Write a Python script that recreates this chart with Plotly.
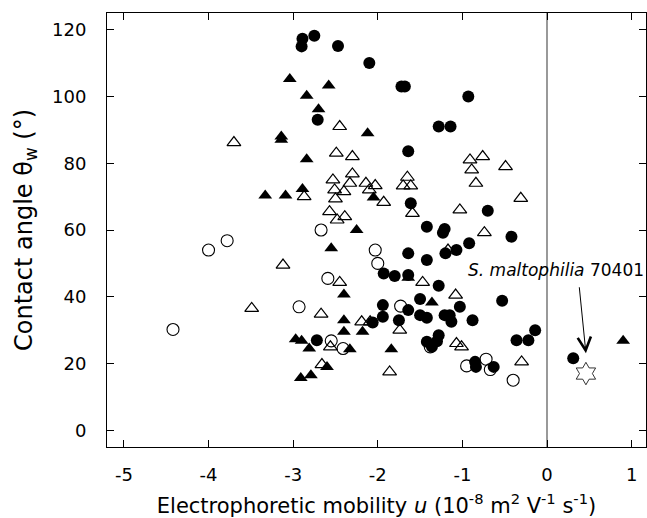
import plotly.graph_objects as go

# Filled circles
fc_x = [-2.89, -2.90, -2.75, -2.47, -2.10, -1.72, -1.68, -0.93, -1.28, -1.14,
        -1.64, -2.71, -1.61, -0.70, -1.42, -1.23, -1.21, -0.42, -0.92, -1.07,
        -1.20, -1.64, -1.42, -1.93, -1.80, -1.64, -1.28, -0.53, -1.50, -1.94,
        -1.94, -2.06, -1.75, -1.64, -1.50, -1.42, -1.21, -1.15, -1.13, -1.03,
        -0.88, -1.28, -1.30, -1.42, -1.36, -0.14, -0.22, -0.36, -0.85, -0.84,
        -0.63, -2.72, 0.31]
fc_y = [117.3, 115.0, 118.2, 115.1, 110.0, 103.0, 103.0, 100.0, 91.0, 91.0,
        83.6, 93.0, 68.0, 65.8, 61.0, 59.2, 60.3, 58.0, 56.0, 54.0,
        53.0, 53.0, 51.0, 47.0, 46.2, 46.5, 43.3, 38.8, 39.3, 37.5,
        34.0, 32.3, 33.0, 36.0, 34.5, 33.7, 34.5, 34.5, 32.5, 37.0,
        33.0, 28.5, 26.7, 26.5, 25.0, 30.0, 27.0, 27.0, 20.5, 19.0,
        19.0, 27.0, 21.6]

# Open circles
oc_x = [-4.42, -4.00, -3.78, -2.93, -2.67, -2.59, -2.55, -2.41, -2.03, -2.00,
        -1.73, -1.38, -0.95, -0.72, -0.67, -0.40]
oc_y = [30.2, 54.0, 56.8, 37.0, 60.0, 45.5, 26.8, 24.5, 54.0, 50.0,
        37.2, 25.0, 19.3, 21.3, 18.2, 15.0]

# Filled triangles
ft_x = [-3.04, -2.58, -2.84, -2.70, -3.14, -3.14, -2.12, -2.84, -3.33, -3.09,
        -2.89, -2.05, -2.25, -2.55, -2.40, -2.40, -2.40, -2.18, -2.97, -2.90,
        -2.81, -2.33, -1.84, -2.60, -2.91, -2.79, -1.64, -1.36, 0.90]
ft_y = [105.2, 103.3, 100.2, 96.2, 88.0, 87.0, 89.0, 81.2, 70.3, 70.3,
        72.3, 69.7, 60.0, 54.5, 40.7, 33.0, 29.5, 29.5, 27.3, 26.8,
        24.5, 24.3, 24.3, 19.0, 15.7, 16.5, 45.7, 38.3, 26.8]

# Open triangles
ot_x = [-3.70, -2.45, -2.49, -2.30, -0.91, -0.76, -0.89, -0.49, -0.84, -0.31,
        -1.65, -1.70, -1.61, -2.30, -2.53, -2.33, -2.51, -2.40, -2.14, -2.03,
        -2.10, -2.87, -2.50, -1.93, -2.57, -2.39, -2.48, -1.59, -1.03, -0.74,
        -1.17, -3.12, -2.45, -1.47, -1.08, -3.49, -2.67, -2.19, -2.09, -1.74,
        -1.07, -1.01, -2.56, -2.66, -1.86, -0.30]
ot_y = [86.2, 91.0, 83.0, 82.0, 81.0, 82.0, 78.0, 79.0, 74.0, 69.5,
        75.8, 73.2, 73.2, 76.8, 75.0, 74.0, 72.0, 71.5, 74.0, 73.3,
        72.0, 70.0, 69.3, 68.3, 65.5, 64.0, 63.0, 65.0, 66.0, 59.2,
        54.0, 49.5, 44.3, 44.3, 40.5, 36.5, 34.8, 32.5, 32.5, 30.0,
        26.0, 25.0, 25.0, 19.7, 17.5, 20.5]

# S. maltophilia 70401 (star)
star_x = [0.46]
star_y = [17.0]

x_ticks = [-5, -4, -3, -2, -1, 0, 1]
x_tick_labels = ["-5", "-4", "-3", "-2", "-1", "0", "1"]
y_ticks = [0, 20, 40, 60, 80, 100, 120]

label_text = "<i>S. maltophilia</i> 70401"
label_pos = (0.11, 48.0)
arrow_tail = (0.38, 43.3)
arrow_head = (0.46, 23.1)

FONT = "DejaVu Sans, Liberation Sans, Arial, sans-serif"

fig = go.Figure()
fig.add_trace(go.Scatter(x=ft_x, y=ft_y, mode="markers",
                         marker=dict(symbol="triangle-up", size=12, color="black",
                                     line=dict(width=0))))
fig.add_trace(go.Scatter(x=ot_x, y=ot_y, mode="markers",
                         marker=dict(symbol="triangle-up-open", size=12, color="black",
                                     line=dict(width=1.2))))
fig.add_trace(go.Scatter(x=oc_x, y=oc_y, mode="markers",
                         marker=dict(symbol="circle-open", size=12, color="black",
                                     line=dict(width=1.1))))
fig.add_trace(go.Scatter(x=fc_x, y=fc_y, mode="markers",
                         marker=dict(symbol="circle", size=12, color="black",
                                     line=dict(width=0))))
fig.add_trace(go.Scatter(x=star_x, y=star_y, mode="markers",
                         marker=dict(symbol="hexagram-open", size=17, color="black",
                                     line=dict(width=0.8))))

fig.add_shape(type="line", xref="x", yref="paper", x0=0, x1=0, y0=0, y1=1,
              line=dict(color="#808080", width=1.6), layer="below")

fig.add_annotation(x=label_pos[0], y=label_pos[1], text=label_text, showarrow=False,
                   font=dict(family=FONT, size=17, color="black"), xanchor="center",
                   yanchor="middle")
fig.add_annotation(x=arrow_head[0], y=arrow_head[1], ax=arrow_tail[0], ay=arrow_tail[1],
                   axref="x", ayref="y", text="", showarrow=True, arrowhead=5,
                   arrowsize=2.6, arrowwidth=1, arrowcolor="black")

axis_common = dict(showline=True, linecolor="black", linewidth=1, mirror="allticks",
                   ticks="inside", ticklen=7, tickcolor="black", tickwidth=1,
                   showgrid=False, zeroline=False, automargin=False,
                   tickfont=dict(family=FONT, size=18, color="black"))

fig.update_xaxes(range=[-5.2, 1.17], tickvals=x_ticks, ticktext=x_tick_labels,
                 ticklabelstandoff=11,
                 title=dict(text="Electrophoretic mobility <i>u</i> (10<sup>-8</sup> m<sup>2</sup> V<sup>-1</sup> s<sup>-1</sup>)",
                            font=dict(family=FONT, size=21, color="black"), standoff=18),
                 **axis_common)
fig.update_yaxes(range=[-5, 125], tickvals=y_ticks, ticklabelstandoff=16,
                 title=dict(text="Contact angle θ<sub>w</sub> (°)",
                            font=dict(family=FONT, size=24, color="black"), standoff=12),
                 **axis_common)

fig.update_layout(width=647, height=518, showlegend=False,
                  margin=dict(l=107, r=1, t=13, b=71),
                  paper_bgcolor="white", plot_bgcolor="white")

fig.write_html("out.html", config={"displayModeBar": False},
               post_script="document.body.style.margin='0';")
